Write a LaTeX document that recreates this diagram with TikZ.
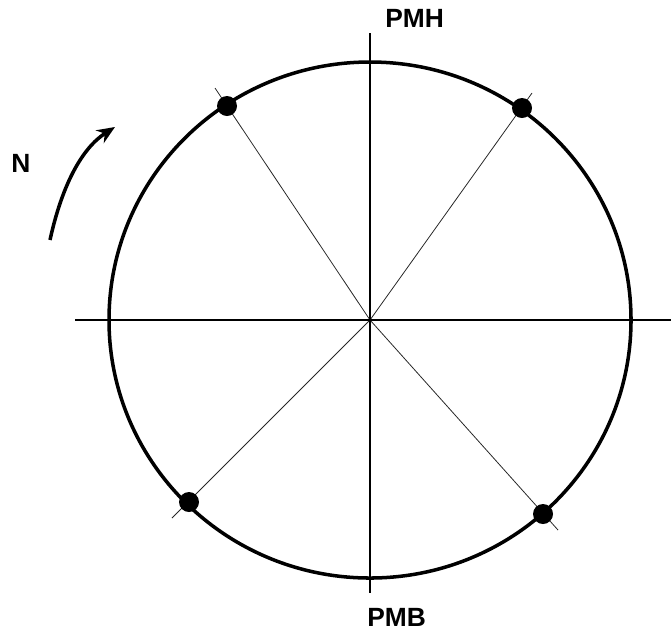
\documentclass[tikz,border=0pt]{standalone}
\usepackage{fontspec}
\setmainfont{Liberation Sans}
\usetikzlibrary{arrows.meta,positioning}

\begin{document}
\begin{tikzpicture}[x=0.02cm, y=-0.02cm,
  rim/.style={line width=2pt, black},
  axis/.style={line width=1pt, black},
  ray/.style={line width=0.45pt, black!85},
  dot/.style={circle, fill=black, inner sep=0pt, minimum width=0.37cm, minimum height=0.40cm},
  lbl/.style={font=\fontsize{15}{18}\selectfont\bfseries, inner sep=0pt},
  arrow/.style={-{Stealth[length=0.36cm, width=0.3cm]}, line width=2pt}
]
\useasboundingbox (0,0) rectangle (671,637);

% Centre and axis ends
\coordinate (c) at (370,320);
\coordinate (top) at (370,33);
\coordinate (bot) at (370,593);
\coordinate (lft) at (75,320);
\coordinate (rgt) at (671,320);

% Rays ends
\coordinate (e1) at (215,88);
\coordinate (e2) at (532,93);
\coordinate (e3) at (172,518);
\coordinate (e4) at (558,530);

\draw[ray] (c) -- (e1);
\draw[ray] (c) -- (e2);
\draw[ray] (c) -- (e3);
\draw[ray] (c) -- (e4);

\draw[axis] (top) -- (bot);
\draw[axis] (lft) -- (rgt);

% Outer circle
\draw[rim] (c) ellipse [x radius=261, y radius=258];

% Points on the circle
\node[dot] (d1) at (227,106) {};
\node[dot] (d2) at (522,108) {};
\node[dot] (d3) at (189,502) {};
\node[dot] (d4) at (543,514) {};

% Labels
\node[lbl, anchor=south west] (pmh) at (385,28) {PMH};
\node[lbl, anchor=north west] (pmb) at (367,608) {PMB};
\node[lbl] (n) at (21,163) {N};

% Direction of rotation
\coordinate (a0) at (50,240);
\coordinate (a1) at (115,127);
\draw[arrow] (a0) .. controls (62,185) and (82,148) .. (a1);

\end{tikzpicture}
\end{document}
